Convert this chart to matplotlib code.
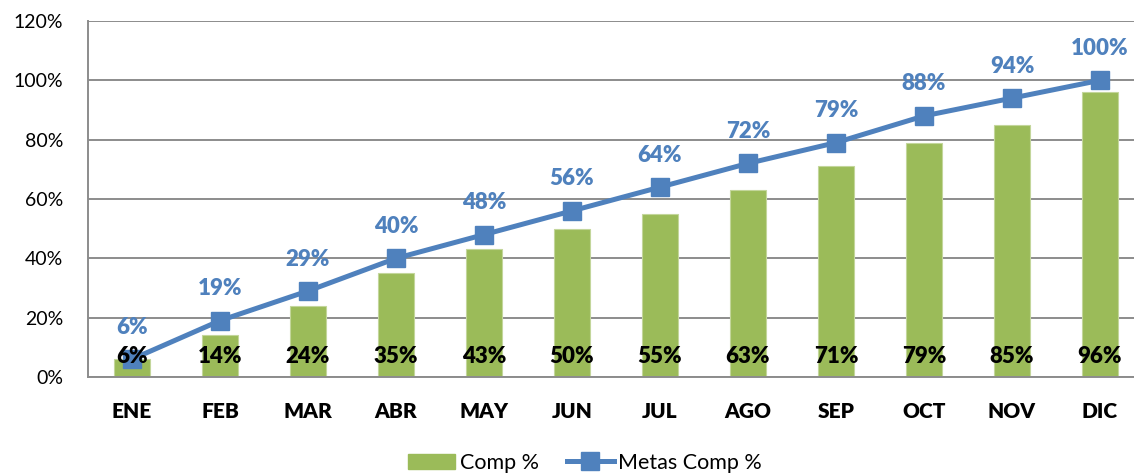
import matplotlib
matplotlib.use("Agg")
import matplotlib.pyplot as plt
from matplotlib.patches import Patch
from matplotlib.lines import Line2D

plt.rcParams['font.family'] = ['Lato', 'DejaVu Sans']

months = ["ENE", "FEB", "MAR", "ABR", "MAY", "JUN", "JUL", "AGO", "SEP", "OCT", "NOV", "DIC"]
comp = [6, 14, 24, 35, 43, 50, 55, 63, 71, 79, 85, 96]
metas = [6, 19, 29, 40, 48, 56, 64, 72, 79, 88, 94, 100]
yticks = [0, 20, 40, 60, 80, 100, 120]

GREEN = "#9BBB59"
BLUE = "#4F81BD"
GRID = "#8C8C8C"

W, H = 1134, 473
fig = plt.figure(figsize=(W / 100, H / 100), dpi=100)
ax = fig.add_axes([88 / W, (H - 377) / H, (1144 - 88) / W, 356 / H])

x = list(range(len(months)))
ax.bar(x, comp, width=0.4, color=GREEN, edgecolor="#C3D69B", linewidth=0.8, zorder=2)
ax.plot(x, metas, color=BLUE, lw=3.6, marker="s", markersize=12.5,
        markerfacecolor=BLUE, markeredgecolor=BLUE, zorder=3)

for xi, v in zip(x, comp):
    ax.annotate(f"{v}%", (xi, 0), xytext=(0, 15), textcoords="offset points",
                ha="center", va="center", fontsize=16, fontweight="heavy", color="black", zorder=4)
for xi, v in zip(x, metas):
    ax.annotate(f"{v}%", (xi, v), xytext=(0, 23), textcoords="offset points",
                ha="center", va="center", fontsize=16, fontweight="heavy", color=BLUE, zorder=4)

ax.set_xlim(-0.5, len(months) - 0.5)
ax.set_ylim(0, 120)
ax.set_yticks(yticks)
ax.set_yticklabels([f"{t}%" for t in yticks], fontsize=14)
ax.set_xticks(x)
ax.set_xticklabels(months, fontsize=15, fontweight="heavy")
ax.tick_params(axis="y", length=0, pad=18)
ax.tick_params(axis="x", length=0, pad=18)

ax.grid(axis="y", color=GRID, lw=1.4, zorder=0)
ax.set_axisbelow(True)
for s in ["top", "right"]:
    ax.spines[s].set_visible(False)
ax.spines["left"].set_color(GRID)
ax.spines["left"].set_linewidth(1.4)
ax.spines["bottom"].set_color(GRID)
ax.spines["bottom"].set_linewidth(1.4)

handles = [Patch(facecolor=GREEN, edgecolor=GREEN),
           Line2D([0], [0], color=BLUE, lw=3.6, marker="s", markersize=12.5)]
fig.legend(handles, ["Comp %", "Metas Comp %"], loc="center", bbox_to_anchor=(0.516, 0.022),
           ncol=2, frameon=False, fontsize=15.5, handlelength=2.2, handletextpad=0.2,
           columnspacing=1.3)

fig.savefig("out.png", dpi=100)
